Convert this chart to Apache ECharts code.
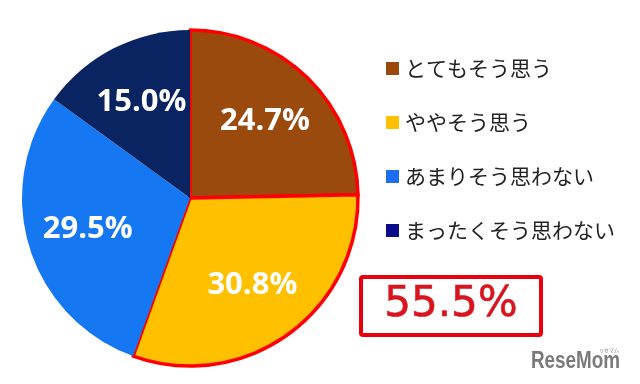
<!DOCTYPE html>
<html>
<head>
<meta charset="utf-8">
<script src="https://cdn.jsdelivr.net/npm/echarts@6/dist/echarts.min.js"></script>
<style>
html,body{margin:0;padding:0;background:#fff;}
#chart{width:640px;height:384px;}
</style>
</head>
<body>
<div id="chart"></div>
<script>
const categories = ['とてもそう思う', 'ややそう思う', 'あまりそう思わない', 'まったくそう思わない'];
const values = [24.7, 30.8, 29.5, 15.0];
const sliceColors = ['#9A4A0C', '#FFC000', '#1677F2', '#0A2462'];
const legendColors = ['#9A4A0C', '#FFC000', '#1E6EF5', '#0A0A8C'];
const highlighted = [true, true, false, false];
const totalLabel = '55.5%';

const center = [190, 198];
const pieData = categories.map((name, i) => ({
  name: name,
  value: values[i],
  itemStyle: {
    color: sliceColors[i],
    borderColor: highlighted[i] ? '#FF0000' : 'transparent',
    borderWidth: highlighted[i] ? 3.5 : 0
  }
}));
const labelData = categories.map((name, i) => ({ name: name, value: values[i] }));

const chart = echarts.init(document.getElementById('chart'));
chart.setOption({
  backgroundColor: '#ffffff',
  animation: false,
  legend: {
    orient: 'vertical',
    left: 381,
    top: 53,
    itemWidth: 13,
    itemHeight: 13,
    itemGap: 33,
    icon: 'rect',
    selectedMode: false,
    itemStyle: { borderWidth: 0 },
    textStyle: { fontFamily: 'Noto Sans CJK JP', fontSize: 21, color: '#222222', padding: [0, 0, 0, 1] },
    data: categories.map((name, i) => ({ name: name, itemStyle: { color: legendColors[i], borderWidth: 0, borderColor: 'transparent' } }))
  },
  series: [
    {
      type: 'pie',
      center: center,
      radius: [0, 168],
      startAngle: 90,
      clockwise: true,
      silent: true,
      label: { show: false },
      labelLine: { show: false },
      data: pieData
    },
    {
      type: 'pie',
      center: center,
      radius: [40, 168],
      startAngle: 90,
      clockwise: true,
      silent: true,
      itemStyle: { color: 'rgba(0,0,0,0)' },
      label: {
        show: true,
        position: 'inside',
        formatter: p => p.value.toFixed(1) + '%',
        color: '#ffffff',
        fontFamily: 'Open Sans',
        fontWeight: 'bold',
        fontSize: 31
      },
      labelLine: { show: false },
      data: labelData
    }
  ],
  graphic: [
    {
      type: 'rect',
      shape: { x: 361, y: 277, width: 180, height: 58, r: 2 },
      style: { fill: '#ffffff', stroke: '#E8000F', lineWidth: 4 }
    },
    {
      type: 'text',
      x: 451, y: 305,
      style: {
        text: totalLabel,
        fontFamily: 'DejaVu Sans',
        fontSize: 42,
        fill: '#D8141E',
        stroke: '#D8141E',
        lineWidth: 0.6,
        align: 'center',
        verticalAlign: 'middle'
      }
    },
    {
      type: 'text',
      x: 531, y: 362,
      scaleX: 0.82,
      style: {
        text: 'ReseMom',
        fontFamily: 'Liberation Sans',
        fontWeight: 'bold',
        fontSize: 23,
        fill: '#7a7a7a',
        align: 'left',
        verticalAlign: 'middle'
      }
    },
    {
      type: 'text',
      x: 609, y: 350,
      style: {
        text: 'リセマム',
        fontFamily: 'Noto Sans CJK JP',
        fontSize: 5,
        fill: '#7a7a7a',
        align: 'center',
        verticalAlign: 'middle'
      }
    }
  ]
});
</script>
</body>
</html>
